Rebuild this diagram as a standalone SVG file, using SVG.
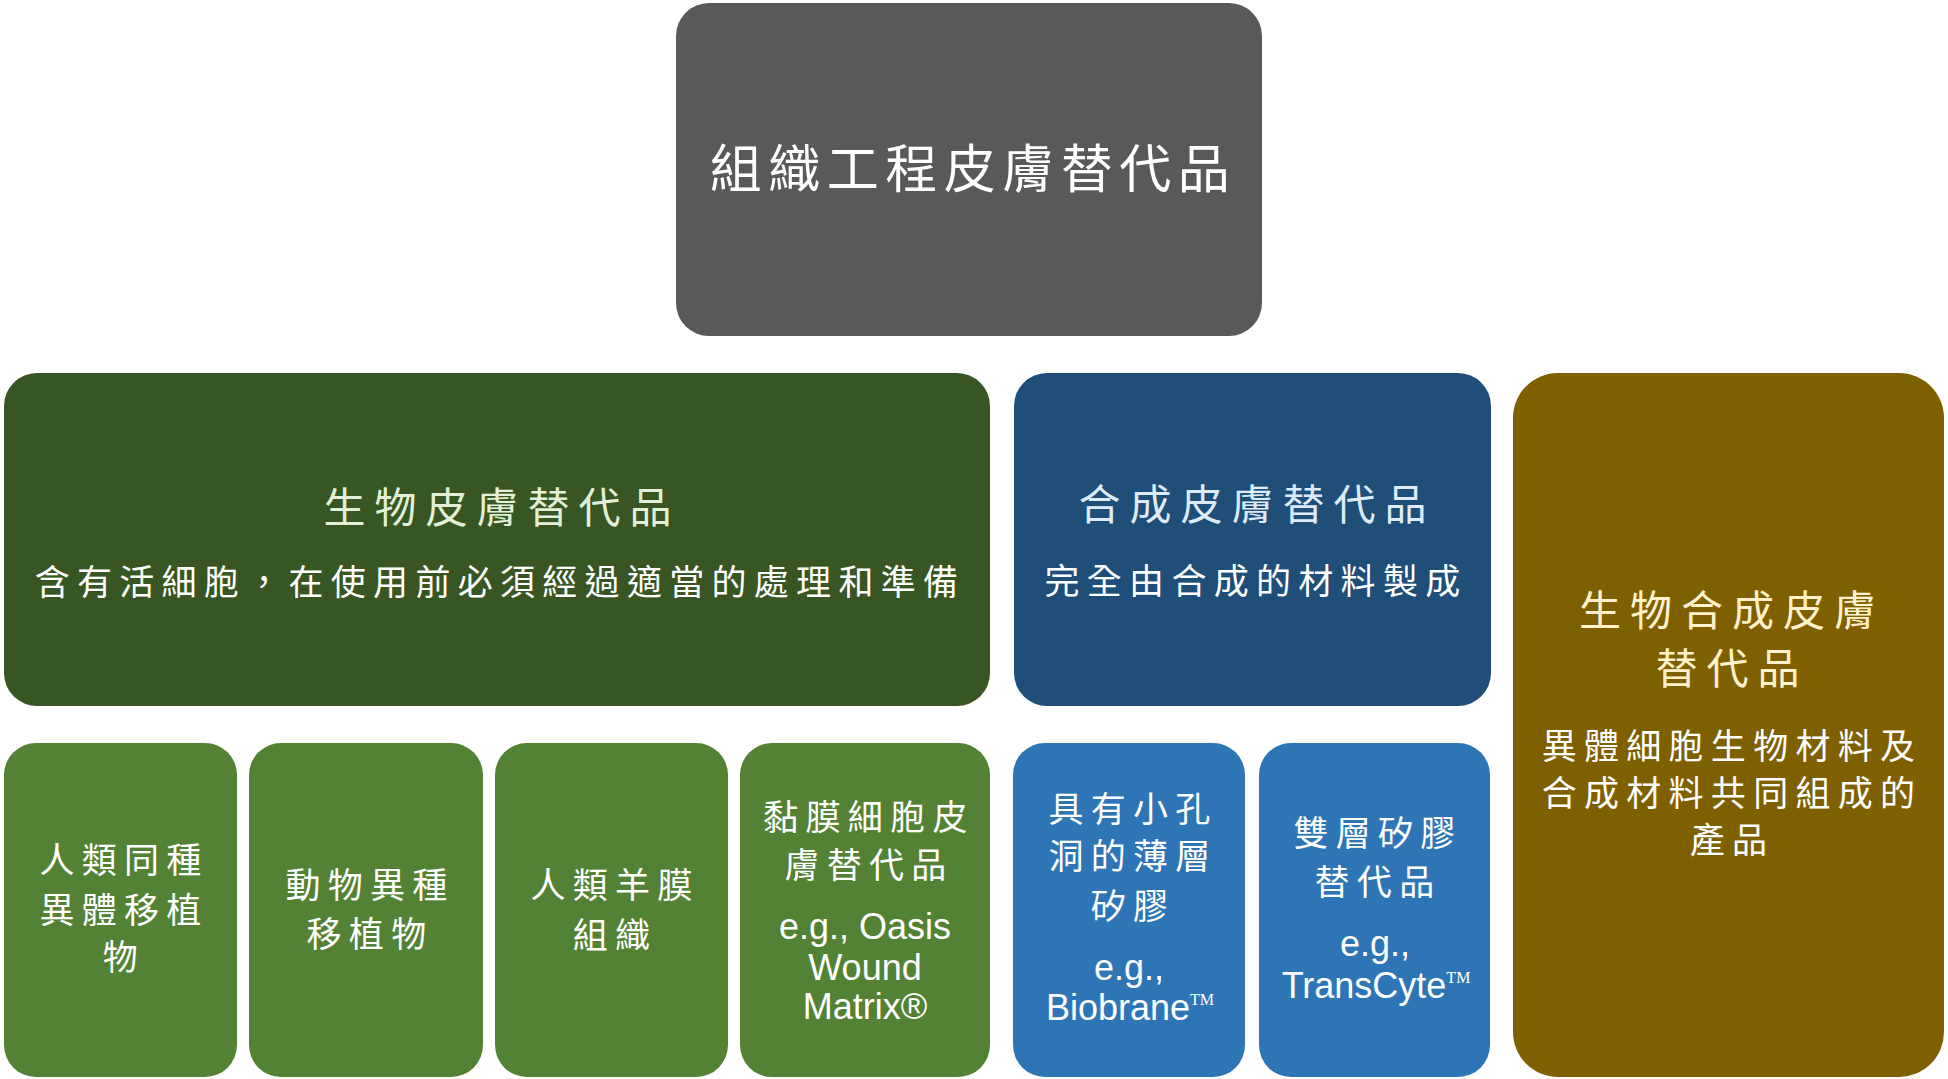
<svg xmlns="http://www.w3.org/2000/svg" width="1948" height="1079" viewBox="0 0 1948 1079">
<style>
.cjk{font-family:"Noto Sans CJK TC","Noto Sans CJK SC",sans-serif;text-anchor:middle}
.lat{font-family:"Liberation Sans",Arial,sans-serif;text-anchor:middle;fill:#fff;font-size:36px}
.tm{font-family:"Liberation Serif","Times New Roman",serif;font-size:16px}
.w{fill:#ffffff}
.t1{font-size:52px;letter-spacing:6.5px}
.t2{font-size:42px;letter-spacing:9px}
.t3{font-size:35px;letter-spacing:7.3px}
</style>
<rect width="1948" height="1079" fill="#ffffff"/>
<g id="connectors"></g>
<g id="root">
<rect x="676" y="3" width="586" height="333" rx="33" fill="#595959"/>
<text class="cjk w t1" x="973" y="188">組織工程皮膚替代品</text>
</g>
<g id="bio">
<rect x="4" y="373" width="986" height="333" rx="33" fill="#375623"/>
<text class="cjk t2" x="502" y="523" fill="#E2F0D9">生物皮膚替代品</text>
<text class="cjk w t3" x="500" y="595">含有活細胞，在使用前必須經過適當的處理和準備</text>
</g>
<g id="syn">
<rect x="1014" y="373" width="477" height="333" rx="33" fill="#1F4E79"/>
<text class="cjk t2" x="1257" y="520" fill="#DEEBF7">合成皮膚替代品</text>
<text class="cjk w t3" x="1256" y="594">完全由合成的材料製成</text>
</g>
<g id="biosyn">
<rect x="1513" y="373" width="431" height="704" rx="45" fill="#7F6000"/>
<text class="cjk t2" x="1732" y="626" fill="#FFF2CC">生物合成皮膚</text>
<text class="cjk t2" x="1732" y="684" fill="#FFF2CC">替代品</text>
<text class="cjk w t3" x="1732" y="759">異體細胞生物材料及</text>
<text class="cjk w t3" x="1732" y="806">合成材料共同組成的</text>
<text class="cjk w t3" x="1732" y="853">產品</text>
</g>
<g id="allo">
<rect x="4" y="743" width="233" height="334" rx="32" fill="#548235"/>
<text class="cjk w t3" x="124" y="873">人類同種</text>
<text class="cjk w t3" x="124" y="923">異體移植</text>
<text class="cjk w t3" x="124" y="970">物</text>
</g>
<g id="xeno">
<rect x="249" y="743" width="234" height="334" rx="32" fill="#548235"/>
<text class="cjk w t3" x="370" y="898">動物異種</text>
<text class="cjk w t3" x="370" y="947">移植物</text>
</g>
<g id="amnion">
<rect x="495" y="743" width="233" height="334" rx="32" fill="#548235"/>
<text class="cjk w t3" x="615" y="898">人類羊膜</text>
<text class="cjk w t3" x="615" y="948">組織</text>
</g>
<g id="mucosa">
<rect x="740" y="743" width="250" height="334" rx="32" fill="#548235"/>
<text class="cjk w t3" x="869" y="830">黏膜細胞皮</text>
<text class="cjk w t3" x="869" y="878">膚替代品</text>
<text class="lat" x="865" y="939">e.g., Oasis</text>
<text class="lat" x="865" y="980">Wound</text>
<text class="lat" x="865" y="1019">Matrix®</text>
</g>
<g id="biobrane">
<rect x="1013" y="743" width="232" height="334" rx="32" fill="#2E75B6"/>
<text class="cjk w t3" x="1133" y="822">具有小孔</text>
<text class="cjk w t3" x="1133" y="869">洞的薄層</text>
<text class="cjk w t3" x="1133" y="919">矽膠</text>
<text class="lat" x="1129" y="980">e.g.,</text>
<text class="lat" x="1130" y="1020">Biobrane<tspan class="tm" dy="-15">TM</tspan></text>
</g>
<g id="transcyte">
<rect x="1259" y="743" width="231" height="334" rx="32" fill="#2E75B6"/>
<text class="cjk w t3" x="1378" y="846">雙層矽膠</text>
<text class="cjk w t3" x="1378" y="895">替代品</text>
<text class="lat" x="1375" y="956">e.g.,</text>
<text class="lat" x="1376" y="998">TransCyte<tspan class="tm" dy="-15">TM</tspan></text>
</g>
</svg>
